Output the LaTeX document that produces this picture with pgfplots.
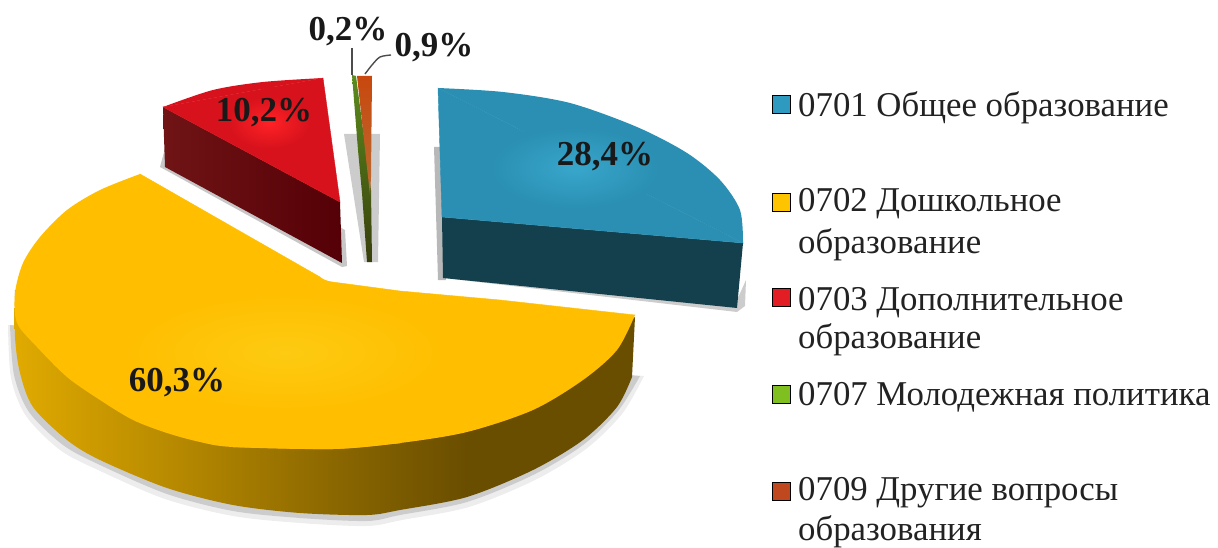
\documentclass[border=0pt]{standalone}
\usepackage{pgfplots}
\pgfplotsset{compat=1.18}
\usepackage{fontspec}
\setmainfont{Liberation Serif}
\definecolor{yt}{HTML}{FFBE00}
\definecolor{ytc}{HTML}{FDCB12}
\definecolor{rt}{HTML}{D8121C}
\definecolor{rtc}{HTML}{FF2226}
\definecolor{bt}{HTML}{2A8FB2}
\definecolor{btc}{HTML}{38A6CB}
\definecolor{bs}{HTML}{14404E}
\definecolor{ys}{HTML}{6A4E00}
\definecolor{ya}{HTML}{E0AA00}
\definecolor{yb}{HTML}{B08400}
\definecolor{yc}{HTML}{8C6800}
\definecolor{txt}{HTML}{222222}
\pgfdeclareradialshading{softy}{\pgfpoint{0bp}{0bp}}{color(0bp)=(ytc); color(17bp)=(yt); color(50bp)=(yt)}
\pgfdeclareradialshading{softr}{\pgfpoint{0bp}{0bp}}{color(0bp)=(rtc); color(17bp)=(rt); color(50bp)=(rt)}
\pgfdeclareradialshading{softb}{\pgfpoint{0bp}{0bp}}{color(0bp)=(btc); color(17bp)=(bt); color(50bp)=(bt)}
\pgfdeclarehorizontalshading{wall}{100bp}{color(0bp)=(ya); color(25bp)=(ya); color(40bp)=(yb); color(50.5bp)=(yc); color(61.6bp)=(ys); color(100bp)=(ys)}
\begin{document}
\begin{tikzpicture}
\begin{axis}[
  name=a,
  scale only axis, width=1218pt, height=548pt,
  xmin=0, xmax=1218, ymin=0, ymax=548, y dir=reverse,
  axis lines=none, clip=true,
  every axis plot/.append style={draw=none},
]
% --- shadows
\addplot[smooth, fill=black, fill opacity=0.07] coordinates {(8,325)(11,378)(26,416)(60,450)(98,470)(165,499)(233,516)(300,523)(367,526)(402,520)(469,507)(535,480)(586,449)(622,414)(644,376)};
\addplot[smooth, fill=black, fill opacity=0.14] coordinates {(10,325)(14,375)(29,412)(63,445)(100,465)(167,494)(233,511)(300,518)(367,521)(400,515)(467,502)(533,475)(583,445)(618,411)(640,376)};
\addplot[fill=black, fill opacity=0.22] coordinates {(160,167)(342,267)(347,266)(345,230)(170,130)} --cycle;
\addplot[fill=black, fill opacity=0.28] coordinates {(434,147)(441,147)(446,280)(438,280)} --cycle;
\addplot[fill=black, fill opacity=0.2] coordinates {(443,278)(737,312)(745,306)(746,280)(737,300)} --cycle;
\addplot[fill=black, fill opacity=0.2] coordinates {(344,134)(380,134)(378,262)(364,262)} --cycle;
% --- yellow slice: wall
\addplot[smooth, shade, shading=wall] coordinates {(15,290)(15,337)(20,373)(33,407)(67,440)(100,460)(167,488)(233,505)(300,513)(367,515)(400,510)(467,497)(533,470)(583,440)(617,407)(632,377)};
\addplot[fill=ys] coordinates {(635,317)(632,377)(585,380)(585,365)} --cycle;
% --- yellow slice: top
\addplot[smooth, fill=yt] coordinates {(140,174)(100,190)(67,210)(40,237)(23,263)(15,293)(17,323)(37,347)(67,377)(100,400)(133,420)(167,433)(200,442)(233,447)(333,449)(400,443)};
\addplot[smooth, fill=yt] coordinates {(233,447)(333,449)(400,443)(467,432)(533,410)(583,380)(617,350)(635,315)};
\addplot[fill=yt, draw=yt, line width=0.4pt] coordinates {(140,174)(320,277)(325,281)(400,291)(500,300)(635,315)(400,443)(233,447)} --cycle;
\addplot[shade, shading=softy] coordinates {(50,352)(285,265)(520,352)(285,440)} --cycle;
% --- red slice
\addplot[left color={rgb,255:red,112;green,20;blue,22}, right color={rgb,255:red,84;green,0;blue,6}] coordinates {(163,107)(340,202)(342,263)(165,167)} --cycle;
\addplot[smooth, fill=rt] coordinates {(163,107)(213,90)(263,82)(323,78)};
\addplot[fill=rt, draw=rt, line width=0.4pt] coordinates {(163,107)(323,78)(340,202)} --cycle;
\addplot[shade, shading=softr] coordinates {(210,125)(269,85)(328,125)(269,160)} --cycle;
% --- green sliver
\addplot[top color={rgb,255:red,92;green,140;blue,30}, bottom color={rgb,255:red,56;green,62;blue,12}] coordinates {(352,75)(356,76)(371,190)(372,262)(367,262)(362,193)(358,150)} --cycle;
% --- orange sliver
\addplot[top color={rgb,255:red,200;green,72;blue,14}, bottom color={rgb,255:red,184;green,108;blue,50}] coordinates {(357,76)(372,76)(371,177)(370,195)} --cycle;
% --- blue slice
\addplot[fill=bs] coordinates {(442,217)(743,243)(737,308)(443,278)} --cycle;
\addplot[smooth, fill=bt] coordinates {(438,88)(503,92)(570,103)(637,127)(687,153)(720,180)(740,210)(743,243)};
\addplot[fill=bt, draw=bt, line width=0.4pt] coordinates {(438,88)(743,243)(442,217)} --cycle;
\addplot[shade, shading=softb] coordinates {(450,165)(580,108)(700,165)(580,228)} --cycle;
% --- leaders
\addplot[draw=black!70, line width=1.4pt] coordinates {(352,48)(352,75)};
\addplot[draw=black!70, line width=1.4pt, smooth] coordinates {(365,74)(372,65)(380,57)(391,55)};
% --- legend keys
\addplot[only marks, mark=square*, mark size=9pt, mark options={draw=none, fill={rgb,255:red,46;green,154;blue,192}}] coordinates {(781,104)};
\addplot[only marks, mark=square*, mark size=9pt, mark options={draw=none, fill={rgb,255:red,255;green,196;blue,0}}] coordinates {(781,202)};
\addplot[only marks, mark=square*, mark size=9pt, mark options={draw=none, fill={rgb,255:red,226;green,30;blue,36}}] coordinates {(781,297)};
\addplot[only marks, mark=square*, mark size=9pt, mark options={draw=none, fill={rgb,255:red,127;green,191;blue,31}}] coordinates {(781,394)};
\addplot[only marks, mark=square*, mark size=9pt, mark options={draw=none, fill={rgb,255:red,192;green,72;blue,30}}] coordinates {(781,491)};
% --- labels
\tikzset{pl/.style={font=\fontsize{35}{37}\selectfont\bfseries, text=black!90, inner sep=0pt},
 lg/.style={font=\fontsize{34.8}{36}\selectfont, text=txt, inner sep=0pt, anchor=base west}}
\node[pl] at (axis cs:605,157) {28,4\%};
\node[pl] at (axis cs:177,383) {60,3\%};
\node[pl] at (axis cs:264,113) {10,2\%};
\node[pl] at (axis cs:348,32) {0,2\%};
\node[pl] at (axis cs:434,48) {0,9\%};
\node[lg] at (axis cs:798,117) {0701 Общее образование};
\node[lg] at (axis cs:798,212) {0702 Дошкольное};
\node[lg] at (axis cs:798,253) {образование};
\node[lg] at (axis cs:798,310) {0703 Дополнительное};
\node[lg] at (axis cs:798,348) {образование};
\node[lg] at (axis cs:798,405) {0707 Молодежная политика};
\node[lg] at (axis cs:798,500) {0709 Другие вопросы};
\node[lg] at (axis cs:798,540) {образования};
\end{axis}
\path (a.south west) rectangle (a.north east);
\end{tikzpicture}
\end{document}
